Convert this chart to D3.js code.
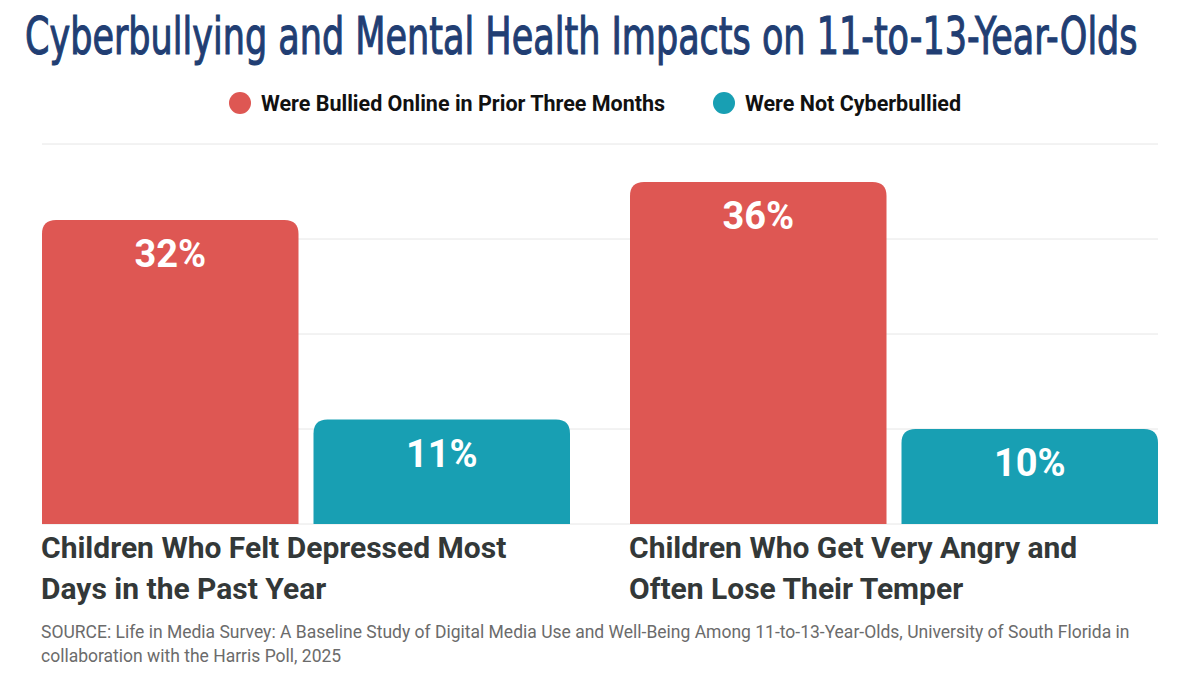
<!DOCTYPE html>
<html>
<head>
<meta charset="utf-8">
<script src="https://cdn.jsdelivr.net/npm/d3@7"></script>
<style>
  body { margin: 0; background: #fff; }
  svg { display: block; }
</style>
</head>
<body>
<svg></svg>
<script>
const svgWidth = 1200;
const svgHeight = 675;

// data
const categories = [
  'Children Who Felt Depressed Most Days in the Past Year',
  'Children Who Get Very Angry and Often Lose Their Temper'
];
const categoryLines = [
  ['Children Who Felt Depressed Most', 'Days in the Past Year'],
  ['Children Who Get Very Angry and', 'Often Lose Their Temper']
];
const seriesNames = ['Were Bullied Online in Prior Three Months', 'Were Not Cyberbullied'];
const bulliedValues = [32, 36];
const notBulliedValues = [11, 10];
const gridTicks = [0, 10, 20, 30, 40];
const colors = ['#de5753', '#189fb3'];

const svg = d3.select('svg')
  .attr('width', svgWidth)
  .attr('height', svgHeight);

// title, squeezed to the width of the original condensed face
const title = svg.append('text')
  .attr('x', 0)
  .attr('y', 0)
  .style('font-family', "'Liberation Sans Narrow', 'DejaVu Sans Condensed', sans-serif")
  .style('font-size', '52px')
  .style('fill', '#213e73')
  .style('stroke', '#213e73')
  .style('stroke-width', 1.1)
  .text('Cyberbullying and Mental Health Impacts on 11-to-13-Year-Olds');
const titleLen = title.node().getComputedTextLength();
title.attr('transform', `translate(25,54) scale(${1113 / titleLen},1)`);

// legend
const legendX = [240, 724];
const legend = svg.selectAll('.legend')
  .data(seriesNames)
  .enter().append('g')
  .attr('class', 'legend')
  .attr('transform', (d, i) => `translate(${legendX[i]},103)`);
legend.append('circle')
  .attr('r', 11)
  .attr('fill', (d, i) => colors[i]);
legend.append('text')
  .attr('x', 21)
  .attr('y', 7.5)
  .style('font-family', 'Roboto, sans-serif')
  .style('font-weight', 700)
  .style('font-size', '21.5px')
  .style('fill', '#111')
  .text(d => d);

// scales
const x0 = d3.scaleBand()
  .domain(categories)
  .range([42, 1158])
  .paddingInner(60 / 588)
  .paddingOuter(0);
const x1 = d3.scaleBand()
  .domain(seriesNames)
  .range([0, x0.bandwidth()])
  .paddingInner(15 / 271.5)
  .paddingOuter(0);
const y = d3.scaleLinear()
  .domain([0, 40])
  .range([524, 144]);

// gridlines
svg.append('g')
  .selectAll('line')
  .data(gridTicks)
  .enter().append('line')
  .attr('x1', 42)
  .attr('x2', 1158)
  .attr('y1', d => y(d))
  .attr('y2', d => y(d))
  .attr('stroke', '#e6e6e6')
  .attr('stroke-width', 1);

// bars with rounded top corners
function topRounded(x, yTop, w, h, r) {
  r = Math.min(r, h, w / 2);
  return `M${x},${yTop + h}V${yTop + r}Q${x},${yTop} ${x + r},${yTop}` +
    `H${x + w - r}Q${x + w},${yTop} ${x + w},${yTop + r}V${yTop + h}Z`;
}

const barData = [];
categories.forEach((c, i) => {
  barData.push({ cat: c, series: seriesNames[0], value: bulliedValues[i], color: colors[0] });
  barData.push({ cat: c, series: seriesNames[1], value: notBulliedValues[i], color: colors[1] });
});

const bars = svg.append('g')
  .selectAll('g')
  .data(barData)
  .enter().append('g');

bars.append('path')
  .attr('d', d => topRounded(x0(d.cat) + x1(d.series), y(d.value), x1.bandwidth(), y(0) - y(d.value), 14))
  .attr('fill', d => d.color);

bars.append('text')
  .attr('x', d => x0(d.cat) + x1(d.series) + x1.bandwidth() / 2)
  .attr('y', d => y(d.value) + 47)
  .attr('text-anchor', 'middle')
  .style('font-family', 'Roboto, sans-serif')
  .style('font-weight', 700)
  .style('font-size', '38px')
  .style('fill', '#fff')
  .text(d => d.value + '%');

// category labels
const catLabels = svg.append('g')
  .selectAll('text')
  .data(categories)
  .enter().append('text')
  .attr('x', d => x0(d) - 1)
  .attr('y', 558)
  .style('font-family', 'Roboto, sans-serif')
  .style('font-weight', 700)
  .style('font-size', '30px')
  .style('fill', '#333838');
catLabels.selectAll('tspan')
  .data((d, i) => categoryLines[i])
  .enter().append('tspan')
  .attr('x', function () { return d3.select(this.parentNode).attr('x'); })
  .attr('dy', (d, i) => i === 0 ? 0 : 41)
  .text(d => d);

// source
const sourceLines = [
  'SOURCE: Life in Media Survey: A Baseline Study of Digital Media Use and Well-Being Among 11-to-13-Year-Olds, University of South Florida in',
  'collaboration with the Harris Poll, 2025'
];
svg.append('g')
  .selectAll('text')
  .data(sourceLines)
  .enter().append('text')
  .attr('x', 41)
  .attr('y', (d, i) => 638 + i * 24)
  .style('font-family', 'Roboto, sans-serif')
  .style('font-size', '17.5px')
  .style('fill', '#6b6b6b')
  .text(d => d);
</script>
</body>
</html>
